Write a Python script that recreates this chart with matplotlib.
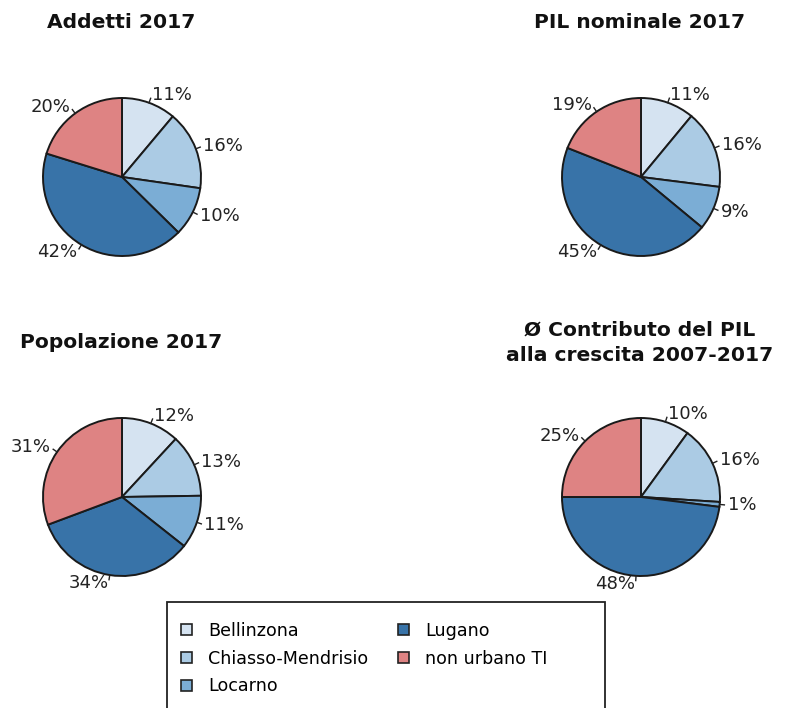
import numpy as np
import matplotlib
matplotlib.use("Agg")
import matplotlib.pyplot as plt
from matplotlib.patches import Rectangle, Patch

plt.rcParams['font.family'] = ['DejaVu Sans']

regions = ["Bellinzona", "Chiasso-Mendrisio", "Locarno", "Lugano", "non urbano TI"]
colors = ["#d5e3f1", "#abcbe4", "#7badd5", "#3873a8", "#de8383"]

titles = ["Addetti 2017", "PIL nominale 2017", "Popolazione 2017",
          "Ø Contributo del PIL\nalla crescita 2007-2017"]
addetti = [11, 16, 10, 42, 20]
pil = [11, 16, 9, 45, 19]
popolazione = [12, 13, 11, 34, 31]
contributo = [10, 16, 1, 48, 25]
series = [addetti, pil, popolazione, contributo]

W, H = 786, 708
fig = plt.figure(figsize=(W / 100, H / 100), dpi=100)

centers = [(122, 177), (641, 177), (122, 497), (641, 497)]
title_pos = [(121, 23), (640, 23), (121, 343), (640, 343)]
R = 79

for vals, (cx, cy), title, (tx, ty) in zip(series, centers, titles, title_pos):
    ax = fig.add_axes([(cx - R) / W, 1 - (cy + R) / H, 2 * R / W, 2 * R / H])
    wedges, texts = ax.pie(vals, colors=colors, startangle=90, counterclock=False,
                           labels=[f"{v}%" for v in vals], labeldistance=1.1,
                           wedgeprops=dict(edgecolor="#1a1a1a", linewidth=1.4),
                           textprops=dict(fontsize=13, color="#222222"))
    for w in wedges:
        ang = np.deg2rad((w.theta1 + w.theta2) / 2)
        ax.plot([np.cos(ang), 1.06 * np.cos(ang)], [np.sin(ang), 1.06 * np.sin(ang)],
                color="#222222", lw=1, clip_on=False)
    ax.set_xlim(-1, 1)
    ax.set_ylim(-1, 1)
    ax.set_aspect('equal')
    fig.text(tx / W, 1 - ty / H, title, ha='center', va='center', fontsize=14.6,
             fontweight='bold', color="#111111", linespacing=1.45)

# legend frame
fig.add_artist(Rectangle((167 / W, -0.05), (605 - 167) / W, (1 - 602 / H) + 0.05,
                         transform=fig.transFigure, fill=False, ec="#222222", lw=1.3))
handles = [Patch(facecolor=c, edgecolor="#222222", lw=1.2) for c in colors]
fig.legend(handles, regions, ncol=2, loc='upper left',
           bbox_to_anchor=(181 / W, 1 - 622 / H), frameon=False, fontsize=12.6,
           handlelength=0.6, handleheight=0.6, handletextpad=0.95,
           columnspacing=1.7, labelspacing=0.55, borderpad=0, borderaxespad=0)

fig.savefig("out.png", dpi=100)
